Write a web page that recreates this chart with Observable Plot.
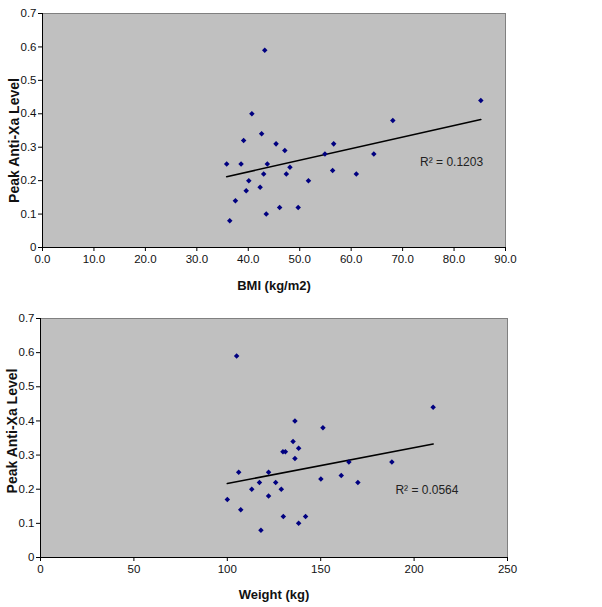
<!DOCTYPE html>
<html><head><meta charset="utf-8">
<script src="https://cdn.jsdelivr.net/npm/d3@7"></script>
<script src="https://cdn.jsdelivr.net/npm/@observablehq/plot@0.6"></script>
<style>body{margin:0;background:#fff;} svg{display:block}</style>
</head><body><div id="c"></div><script>
const bmi = [35.8,36.4,37.5,38.6,39.1,39.6,40.1,40.7,42.3,42.6,43.0,43.2,43.5,43.7,45.4,46.1,47.1,47.4,48.1,49.7,51.7,54.9,56.4,56.6,61.0,64.4,68.1,85.2];
const bmiLevel = [0.25,0.08,0.14,0.25,0.32,0.17,0.20,0.40,0.18,0.34,0.22,0.59,0.10,0.25,0.31,0.12,0.29,0.22,0.24,0.12,0.20,0.28,0.23,0.31,0.22,0.28,0.38,0.44];
const weight = [100.0,105.0,106.1,107.2,113.1,117.2,118.0,122.1,122.1,125.9,128.9,129.8,130.0,131.1,135.2,136.2,136.2,138.2,138.2,141.9,150.1,151.2,161.0,165.1,169.9,188.1,210.2];
const weightLevel = [0.17,0.59,0.25,0.14,0.20,0.22,0.08,0.25,0.18,0.22,0.20,0.31,0.12,0.31,0.34,0.40,0.29,0.32,0.10,0.12,0.23,0.38,0.24,0.28,0.22,0.28,0.44];
const yTicks = [0,0.1,0.2,0.3,0.4,0.5,0.6,0.7];
const bmiTicks = [0,10,20,30,40,50,60,70,80,90];
const weightTicks = [0,50,100,150,200,250];
const yLabel = "Peak Anti-Xa Level";
const bmiLabel = "BMI (kg/m2)";
const weightLabel = "Weight (kg)";
const bmiR2 = "R\u00b2 = 0.1203";
const weightR2 = "R\u00b2 = 0.0564";

function chart(o) {
  const data = o.x.map((v, i) => ({x: v, y: o.y[i]}));
  return Plot.plot({
    width: 602, height: o.height,
    marginTop: o.mt, marginBottom: o.mb, marginLeft: o.ml, marginRight: o.mr,
    style: {fontFamily: "'Liberation Sans', Arial, sans-serif", fontSize: "11.5px", color: "#111", background: "transparent"},
    x: {domain: [o.xTicks[0], o.xTicks[o.xTicks.length - 1]]},
    y: {domain: [0, 0.7]},
    marks: [
      Plot.frame({fill: "#c0c0c0", stroke: "#808080"}),
      Plot.axisX({ticks: o.xTicks, tickSize: 4, tickPadding: 3, tickFormat: o.xFmt, label: null, stroke: "#000"}),
      Plot.axisY({ticks: yTicks, tickSize: 4, tickPadding: 2, tickFormat: d => d === 0 ? "0" : d.toFixed(1), label: null, stroke: "#000"}),
      Plot.ruleX([o.xTicks[0]], {stroke: "#000"}),
      Plot.ruleY([0], {stroke: "#000"}),
      Plot.linearRegressionY(data, {x: "x", y: "y", stroke: "#000", strokeWidth: 1.6, ci: 0}),
      Plot.dot(data, {x: "x", y: "y", symbol: "square", rotate: 45, r: 2.2, fill: "#000080", stroke: "none"}),
      Plot.text([{x: o.r2x, y: o.r2y, t: o.r2}], {x: "x", y: "y", text: "t", textAnchor: "start", fontSize: 12, fill: "#222"}),
      Plot.text([o.xLabel], {text: d => d, frameAnchor: "bottom", textAnchor: "middle", lineAnchor: "middle", dy: o.xdy, fontWeight: "bold", fontSize: 13, fill: "#111"}),
      Plot.text([yLabel], {text: d => d, frameAnchor: "left", textAnchor: "middle", lineAnchor: "middle", rotate: -90, dx: -28, dy: o.ydy, fontWeight: "bold", fontSize: 14, fill: "#111"})
    ]
  });
}

const c = document.getElementById("c");
c.appendChild(chart({x: bmi, y: bmiLevel, xTicks: bmiTicks, xFmt: d => d.toFixed(1), xLabel: bmiLabel,
  r2: bmiR2, r2x: 73.4, r2y: 0.256, height: 300, mt: 13, mb: 53, ml: 42, mr: 97, xdy: 38, ydy: 10}));
c.appendChild(chart({x: weight, y: weightLevel, xTicks: weightTicks, xFmt: d => String(d), xLabel: weightLabel,
  r2: weightR2, r2x: 190, r2y: 0.197, height: 307, mt: 18, mb: 50, ml: 40, mr: 95, xdy: 37, ydy: -7}));
</script></body></html>
